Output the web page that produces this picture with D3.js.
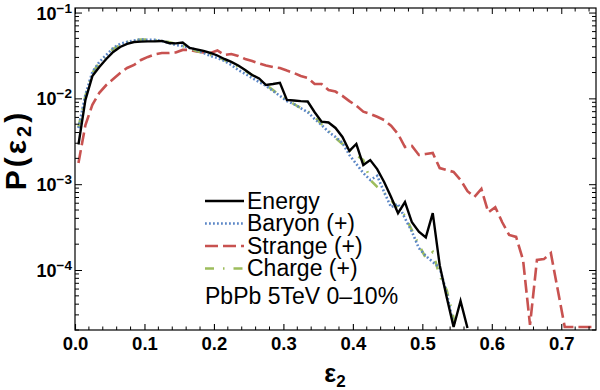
<!DOCTYPE html>
<html><head><meta charset="utf-8">
<script src="https://cdn.jsdelivr.net/npm/d3@7"></script>
<style>
body{margin:0;background:#fff;}
svg{display:block;font-family:"Liberation Sans",Arial,sans-serif;}
</style></head>
<body><svg id="c" width="600" height="390"></svg>
<script>
// bin centres of eps_2
const binCenters = [0.005,0.015,0.025,0.035,0.045,0.055,0.065,0.075,0.085,0.095,
0.105,0.115,0.125,0.135,0.145,0.155,0.165,0.175,0.185,0.195,
0.205,0.215,0.225,0.235,0.245,0.255,0.265,0.275,0.285,0.295,
0.305,0.315,0.325,0.335,0.345,0.355,0.365,0.375,0.385,0.395,
0.405,0.415,0.425,0.435,0.445,0.455,0.465,0.475,0.485,0.495,
0.505,0.515,0.525,0.535,0.545,0.555,0.565,0.575,0.585,0.595,
0.605,0.615,0.625,0.635,0.645,0.655,0.665,0.675,0.685,0.695,
0.705,0.715,0.725,0.735,0.745,0.755];

const energy = [0.0029,0.0096,0.0182,0.0232,0.0288,0.0347,0.0397,0.0431,0.0454,0.0458,
0.0461,0.0461,0.0467,0.0442,0.0437,0.0448,0.0387,0.0372,0.0357,0.0338,
0.0316,0.0288,0.0266,0.0242,0.0214,0.0187,0.0171,0.0143,0.0147,0.0152,
0.0096,0.00945,0.0093,0.0092,0.0069,0.00535,0.00524,0.00452,0.00355,0.00244,
0.00294,0.00167,0.00191,0.0015,0.00106,0.00071,0.00046,0.00062,0.00036,0.00028,
0.00024,0.00046,0.000114,0.0000484,0.0000217,0.0000435,0.0000211];

const baryon = [0.0045,0.011,0.0203,0.0266,0.032,0.0387,0.0431,0.0454,0.0473,0.0486,
0.048,0.048,0.0467,0.0442,0.0419,0.0408,0.0387,0.0367,0.0338,0.0312,
0.0296,0.0273,0.0245,0.0214,0.0193,0.0173,0.0155,0.0140,0.0122,0.0107,
0.0093,0.0086,0.0077,0.0069,0.00575,0.0049,0.00406,0.00355,0.00302,0.00219,
0.00172,0.00135,0.00112,0.00125,0.00081,0.00054,0.00059,0.0004,0.00028,0.00018,
0.000146,0.000124,0.000106,0.000054,0.0000229];

const strange = [0.00177,0.0049,0.0084,0.0116,0.0143,0.0168,0.0198,0.0226,0.0245,0.028,
0.0304,0.0325,0.0338,0.0338,0.0343,0.0367,0.0367,0.0352,0.0343,0.0338,
0.0362,0.032,0.0329,0.0312,0.0288,0.0273,0.0255,0.0242,0.0232,0.0226,
0.0211,0.0198,0.0182,0.0173,0.0147,0.0147,0.0125,0.012,0.0107,0.0093,
0.0082,0.007,0.0066,0.0061,0.0056,0.0048,0.00385,0.00271,0.00279,0.00219,
0.00225,0.00231,0.00154,0.00146,0.00139,0.00112,0.00083,0.00071,0.00088,0.00047,
0.00054,0.00036,0.000256,0.000243,0.000131,0.0000229,0.000131,0.000134,0.000158,0.0000585,
0.0000217,0.0000217,0.0000217,0.0000217,0.0000217,0.0000217];

const charge = [0.0046,0.0107,0.0198,0.0259,0.032,0.0377,0.0419,0.0454,0.0473,0.0486,
0.0486,0.048,0.0467,0.0454,0.0431,0.0408,0.0382,0.0357,0.0338,0.032,
0.0304,0.028,0.0259,0.0232,0.0209,0.0187,0.0164,0.0143,0.0125,0.0107,
0.0096,0.0086,0.0077,0.0071,0.0061,0.005,0.0042,0.00346,0.00294,0.0025,
0.00219,0.00191,0.00112,0.00093,0.00079,0.00065,0.00053,0.00043,0.00029,0.000196,
0.000138,0.000162,0.000085,0.0000585,0.0000276,0.000013];

const xTickLabels = ["0.0","0.1","0.2","0.3","0.4","0.5","0.6","0.7"];
const xTickValues = [0,0.1,0.2,0.3,0.4,0.5,0.6,0.7];
const yTickValues = [1e-4,1e-3,1e-2,1e-1];
const yTickExps = ["−4","−3","−2","−1"];
const seriesNames = ["Energy","Baryon (+)","Strange (+)","Charge (+)"];
const annotation = "PbPb 5TeV 0–10%";

const L=75,R=596,T=8,B=330;
const svg=d3.select("#c");
const x=d3.scaleLinear().domain([0,0.75]).range([L,R]);
const y=d3.scaleLog().domain([2e-5,0.113]).range([B,T]);

svg.append("defs").append("clipPath").attr("id","clip")
  .append("rect").attr("x",L).attr("y",T).attr("width",R-L).attr("height",B-T);

const styles=[
 {data:energy,color:"#000000",dash:null,w:2.4},
 {data:baryon,color:"#5b86c6",dash:"1.8,2.2",w:2.6},
 {data:strange,color:"#c85250",dash:"13,5",w:2.6},
 {data:charge,color:"#9dbd5c",dash:"9,9,1.5,9",w:2.6}
];
const line=d3.line().x((d,i)=>x(binCenters[i])).y(d=>y(d));
const g=svg.append("g").attr("clip-path","url(#clip)");
[2,3,1,0].forEach(k=>{
  const s=styles[k];
  g.append("path").datum(s.data).attr("d",line)
   .attr("fill","none").attr("stroke",s.color).attr("stroke-width",s.w)
   .attr("stroke-dasharray",s.dash).attr("stroke-linejoin","miter");
});

// frame
svg.append("rect").attr("x",L).attr("y",T).attr("width",R-L).attr("height",B-T)
  .attr("fill","none").attr("stroke","#000").attr("stroke-width",1.2);

// x axis (inward ticks)
const xa=svg.append("g").attr("transform",`translate(0,${B})`)
 .call(d3.axisBottom(x).tickValues(xTickValues).tickFormat((d,i)=>xTickLabels[i])
   .tickSizeInner(-6).tickSizeOuter(0).tickPadding(7));
xa.select(".domain").remove();
xa.selectAll("text").attr("font-size",18.5).attr("font-weight","bold")
  .attr("font-family","Liberation Sans, Arial, sans-serif").attr("fill","#000");
xa.selectAll("line").attr("stroke-width",1.1);
const xt=svg.append("g").attr("transform",`translate(0,${T})`)
 .call(d3.axisTop(x).tickValues(xTickValues).tickFormat("").tickSizeInner(-6).tickSizeOuter(0));
xt.select(".domain").remove();
const xMinor=d3.range(1,38).map(i=>i*0.02).filter(v=>Math.abs(v*10-Math.round(v*10))>1e-6 && v<0.75);
xMinor.forEach(v=>{
  svg.append("line").attr("x1",x(v)).attr("x2",x(v)).attr("y1",B).attr("y2",B-3.5).attr("stroke","#000");
  svg.append("line").attr("x1",x(v)).attr("x2",x(v)).attr("y1",T).attr("y2",T+3.5).attr("stroke","#000");
});

// y axis
const ya=svg.append("g").attr("transform",`translate(${L},0)`)
 .call(d3.axisLeft(y).tickValues(yTickValues).tickFormat("").tickSizeInner(-7).tickSizeOuter(0));
ya.select(".domain").remove();
const yr=svg.append("g").attr("transform",`translate(${R},0)`)
 .call(d3.axisRight(y).tickValues(yTickValues).tickFormat("").tickSizeInner(-7).tickSizeOuter(0));
yr.select(".domain").remove();
const yMinor=[];
[1e-5,1e-4,1e-3,1e-2,1e-1].forEach(dec=>{for(let m=2;m<=9;m++){const v=m*dec; if(v>=2e-5&&v<=0.113) yMinor.push(v);}});
yMinor.forEach(v=>{
  svg.append("line").attr("x1",L).attr("x2",L+4).attr("y1",y(v)).attr("y2",y(v)).attr("stroke","#000");
  svg.append("line").attr("x1",R).attr("x2",R-4).attr("y1",y(v)).attr("y2",y(v)).attr("stroke","#000");
});
yTickValues.forEach((v,i)=>{
  const t=svg.append("text").attr("x",L-3).attr("y",y(v)+7).attr("text-anchor","end")
    .attr("font-size",18).attr("font-weight","bold").attr("fill","#000");
  t.append("tspan").text("10");
  t.append("tspan").attr("dy",-7).attr("font-size",13.5).text(yTickExps[i]);
});

// axis titles
const yt=svg.append("text").attr("transform","translate(26,150) rotate(-90)")
  .attr("text-anchor","middle").attr("font-size",30).attr("font-weight","bold")
  .attr("letter-spacing","3px").attr("fill","#000");
yt.append("tspan").text("P(ε");
yt.append("tspan").attr("font-size",20).attr("dy",5).text("2");
yt.append("tspan").attr("dy",-5).text(")");
const xtl=svg.append("text").attr("x",335).attr("y",382).attr("text-anchor","middle")
  .attr("font-size",25).attr("font-weight","bold").attr("fill","#000");
xtl.append("tspan").text("ε");
xtl.append("tspan").attr("font-size",17).attr("dy",5).text("2");

// legend
const ly=[201,223.5,246,268.5];
[0,1,2,3].forEach(k=>{
  const s=styles[k];
  svg.append("line").attr("x1",205).attr("x2",244).attr("y1",ly[k]).attr("y2",ly[k])
    .attr("stroke",s.color).attr("stroke-width",s.w).attr("stroke-dasharray",s.dash);
  svg.append("text").attr("x",247).attr("y",ly[k]+7.5).attr("font-size",23).attr("fill","#000")
    .text(seriesNames[k]);
});
svg.append("text").attr("x",205).attr("y",304).attr("font-size",23).attr("fill","#000").text(annotation);
</script></body></html>
